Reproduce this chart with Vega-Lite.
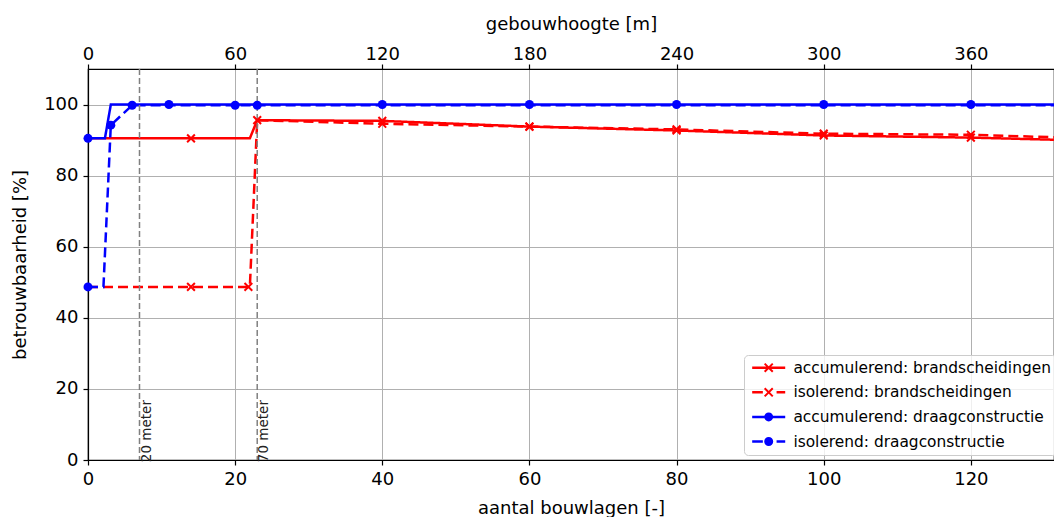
{
  "$schema": "https://vega.github.io/schema/vega-lite/v6.json",
  "width": 966,
  "height": 391,
  "autosize": "none",
  "padding": {"left": 88, "top": 69, "right": 0, "bottom": 57},
  "background": "white",
  "config": {
    "font": "DejaVu Sans",
    "view": {"stroke": "black", "strokeWidth": 1.2},
    "axis": {
      "labelFont": "DejaVu Sans", "labelFontSize": 18, "labelColor": "black",
      "titleFont": "DejaVu Sans", "titleFontSize": 18, "titleFontWeight": "normal", "titleColor": "black",
      "domainColor": "black", "domainWidth": 1.2, "tickColor": "black", "tickWidth": 1.2, "tickSize": 5,
      "gridColor": "#b0b0b0", "gridWidth": 1, "gridOpacity": 1,
      "labelPadding": 5, "labelFlush": false, "labelOverlap": false
    },
    "legend": {
      "labelFont": "DejaVu Sans", "labelFontSize": 15.4, "labelColor": "black", "labelLimit": 0,
      "symbolSize": 81, "symbolStrokeWidth": 0, "symbolOpacity": 1,
      "padding": 5, "rowPadding": 7.6, "symbolOffset": 12, "labelOffset": 17,
      "fillColor": "rgba(255,255,255,0.8)", "strokeColor": "#cccccc", "cornerRadius": 4
    }
  },
  "datasets": {
    "lines": [
      {"series": "accumulerend: brandscheidingen", "x": 0, "y": 90.5},
      {"series": "accumulerend: brandscheidingen", "x": 22, "y": 90.5},
      {"series": "accumulerend: brandscheidingen", "x": 23, "y": 95.6},
      {"series": "accumulerend: brandscheidingen", "x": 40, "y": 95.4},
      {"series": "accumulerend: brandscheidingen", "x": 60, "y": 93.8},
      {"series": "accumulerend: brandscheidingen", "x": 80, "y": 92.7},
      {"series": "accumulerend: brandscheidingen", "x": 100, "y": 91.3},
      {"series": "accumulerend: brandscheidingen", "x": 120, "y": 90.7},
      {"series": "accumulerend: brandscheidingen", "x": 131.3, "y": 90.1},
      {"series": "isolerend: brandscheidingen", "x": 0, "y": 48.7},
      {"series": "isolerend: brandscheidingen", "x": 22, "y": 48.7},
      {"series": "isolerend: brandscheidingen", "x": 23, "y": 95.6},
      {"series": "isolerend: brandscheidingen", "x": 40, "y": 94.6},
      {"series": "isolerend: brandscheidingen", "x": 60, "y": 93.8},
      {"series": "isolerend: brandscheidingen", "x": 80, "y": 93.0},
      {"series": "isolerend: brandscheidingen", "x": 100, "y": 91.8},
      {"series": "isolerend: brandscheidingen", "x": 120, "y": 91.5},
      {"series": "isolerend: brandscheidingen", "x": 131.3, "y": 90.8},
      {"series": "accumulerend: draagconstructie", "x": 0, "y": 90.5},
      {"series": "accumulerend: draagconstructie", "x": 2.3, "y": 90.5},
      {"series": "accumulerend: draagconstructie", "x": 3.1, "y": 100},
      {"series": "accumulerend: draagconstructie", "x": 131.3, "y": 100},
      {"series": "isolerend: draagconstructie", "x": 0, "y": 48.7},
      {"series": "isolerend: draagconstructie", "x": 2.1, "y": 48.7},
      {"series": "isolerend: draagconstructie", "x": 3.1, "y": 94.2},
      {"series": "isolerend: draagconstructie", "x": 6, "y": 99.8},
      {"series": "isolerend: draagconstructie", "x": 131.3, "y": 99.8}
    ],
    "markers": [
      {"series": "accumulerend: brandscheidingen", "x": 14, "y": 90.5},
      {"series": "accumulerend: brandscheidingen", "x": 23, "y": 95.6},
      {"series": "accumulerend: brandscheidingen", "x": 40, "y": 95.4},
      {"series": "accumulerend: brandscheidingen", "x": 60, "y": 93.8},
      {"series": "accumulerend: brandscheidingen", "x": 80, "y": 92.7},
      {"series": "accumulerend: brandscheidingen", "x": 100, "y": 91.3},
      {"series": "accumulerend: brandscheidingen", "x": 120, "y": 90.7},
      {"series": "isolerend: brandscheidingen", "x": 14, "y": 48.7},
      {"series": "isolerend: brandscheidingen", "x": 21.8, "y": 48.7},
      {"series": "isolerend: brandscheidingen", "x": 40, "y": 94.6},
      {"series": "isolerend: brandscheidingen", "x": 60, "y": 93.8},
      {"series": "isolerend: brandscheidingen", "x": 80, "y": 93.0},
      {"series": "isolerend: brandscheidingen", "x": 100, "y": 91.8},
      {"series": "isolerend: brandscheidingen", "x": 120, "y": 91.5},
      {"series": "accumulerend: draagconstructie", "x": 0, "y": 90.5},
      {"series": "accumulerend: draagconstructie", "x": 11, "y": 100},
      {"series": "accumulerend: draagconstructie", "x": 40, "y": 100},
      {"series": "accumulerend: draagconstructie", "x": 60, "y": 100},
      {"series": "accumulerend: draagconstructie", "x": 80, "y": 100},
      {"series": "accumulerend: draagconstructie", "x": 100, "y": 100},
      {"series": "accumulerend: draagconstructie", "x": 120, "y": 100},
      {"series": "isolerend: draagconstructie", "x": 0, "y": 48.7},
      {"series": "isolerend: draagconstructie", "x": 3.1, "y": 94.2},
      {"series": "isolerend: draagconstructie", "x": 6, "y": 99.8},
      {"series": "isolerend: draagconstructie", "x": 20, "y": 99.8},
      {"series": "isolerend: draagconstructie", "x": 23, "y": 99.8}
    ],
    "refs": [
      {"x": 7, "y": -0.6, "label": "20 meter"},
      {"x": 23, "y": -0.6, "label": "70 meter"}
    ]
  },
  "resolve": {"scale": {"x": "shared"}, "axis": {"x": "independent"}},
  "layer": [
    {
      "data": {"name": "lines"},
      "mark": {"type": "line", "strokeWidth": 2.5},
      "encoding": {
        "x": {"field": "x", "type": "quantitative", "scale": {"domain": [0, 131.3], "nice": false, "zero": false},
          "axis": {"orient": "bottom", "values": [0, 20, 40, 60, 80, 100, 120], "grid": true, "title": "aantal bouwlagen [-]", "titlePadding": 11}},
        "y": {"field": "y", "type": "quantitative", "scale": {"domain": [0, 110], "nice": false},
          "axis": {"values": [0, 20, 40, 60, 80, 100], "grid": true, "title": "betrouwbaarheid [%]", "titlePadding": 14}},
        "stroke": {"field": "series", "type": "nominal",
          "scale": {"range": ["#ff0000", "#0000ff", "#ff0000", "#0000ff"]}, "legend": null},
        "strokeDash": {"field": "series", "type": "nominal",
          "scale": {"range": [[1, 0], [1, 0], [10, 5], [10, 5]]}, "legend": null}
      }
    },
    {
      "data": {"name": "refs"},
      "mark": {"type": "rule", "color": "#808080", "strokeWidth": 1.5, "strokeDash": [6, 3]},
      "encoding": {
        "x": {"field": "x", "type": "quantitative",
          "axis": {"orient": "top", "values": [0, 20, 40, 60, 80, 100, 120], "labelExpr": "datum.value * 3", "title": "gebouwhoogte [m]", "grid": false, "labelPadding": 1, "titlePadding": 12}}
      }
    },
    {
      "data": {"name": "refs"},
      "mark": {"type": "text", "angle": 270, "align": "left", "baseline": "top", "fontSize": 13.5, "color": "#222222"},
      "encoding": {
        "x": {"field": "x", "type": "quantitative", "axis": null},
        "y": {"field": "y", "type": "quantitative"},
        "text": {"field": "label"}
      }
    },
    {
      "data": {"name": "markers"},
      "transform": [{"filter": "indexof(datum.series, 'brandscheidingen') >= 0"}],
      "mark": {"type": "point", "shape": "M-1,-1L1,1M-1,1L1,-1", "filled": false, "size": 60, "strokeWidth": 2, "opacity": 1, "color": "#ff0000"},
      "encoding": {
        "x": {"field": "x", "type": "quantitative", "axis": null},
        "y": {"field": "y", "type": "quantitative"},
        "detail": {"field": "series"}
      }
    },
    {
      "data": {"name": "markers"},
      "transform": [{"filter": "indexof(datum.series, 'draagconstructie') >= 0"}],
      "mark": {"type": "point", "shape": "circle", "filled": true, "size": 81, "strokeWidth": 0, "opacity": 1, "color": "#0000ff"},
      "encoding": {
        "x": {"field": "x", "type": "quantitative", "axis": null},
        "y": {"field": "y", "type": "quantitative"},
        "detail": {"field": "series"}
      }
    },
    {
      "data": {"name": "markers"},
      "transform": [{"filter": "datum.x < 0"}],
      "mark": {"type": "point", "filled": true, "opacity": 1},
      "encoding": {
        "x": {"field": "x", "type": "quantitative", "axis": null},
        "y": {"field": "y", "type": "quantitative"},
        "color": {"field": "series", "type": "nominal",
          "scale": {"domain": ["accumulerend: brandscheidingen", "isolerend: brandscheidingen", "accumulerend: draagconstructie", "isolerend: draagconstructie"], "range": ["#ff0000", "#ff0000", "#0000ff", "#0000ff"]},
          "legend": {"title": null, "orient": "none", "legendX": 656, "legendY": 286, "labelLimit": 0}},
        "shape": {"field": "series", "type": "nominal",
          "scale": {"domain": ["accumulerend: brandscheidingen", "isolerend: brandscheidingen", "accumulerend: draagconstructie", "isolerend: draagconstructie"],
            "range": [
              "M-3.67,-0.28L3.67,-0.28L3.67,0.28L-3.67,0.28Z M-0.744,-1.056L1.056,0.744L0.744,1.056L-1.056,-0.744Z M-1.056,0.744L0.744,-1.056L1.056,-0.744L-0.744,1.056Z",
              "M-3.67,-0.28L-1.3,-0.28L-1.3,0.28L-3.67,0.28Z M1.75,-0.28L3.67,-0.28L3.67,0.28L1.75,0.28Z M-0.744,-1.056L1.056,0.744L0.744,1.056L-1.056,-0.744Z M-1.056,0.744L0.744,-1.056L1.056,-0.744L-0.744,1.056Z",
              "M-3.67,-0.28L3.67,-0.28L3.67,0.28L-3.67,0.28Z M1,0L0.924,0.383L0.707,0.707L0.383,0.924L0,1L-0.383,0.924L-0.707,0.707L-0.924,0.383L-1,0L-0.924,-0.383L-0.707,-0.707L-0.383,-0.924L0,-1L0.383,-0.924L0.707,-0.707L0.924,-0.383Z",
              "M-3.67,-0.28L-1.3,-0.28L-1.3,0.28L-3.67,0.28Z M1.75,-0.28L3.67,-0.28L3.67,0.28L1.75,0.28Z M1,0L0.924,0.383L0.707,0.707L0.383,0.924L0,1L-0.383,0.924L-0.707,0.707L-0.924,0.383L-1,0L-0.924,-0.383L-0.707,-0.707L-0.383,-0.924L0,-1L0.383,-0.924L0.707,-0.707L0.924,-0.383Z"
            ]},
          "legend": {"title": null, "orient": "none", "legendX": 656, "legendY": 286, "labelLimit": 0}}
      }
    }
  ]
}
